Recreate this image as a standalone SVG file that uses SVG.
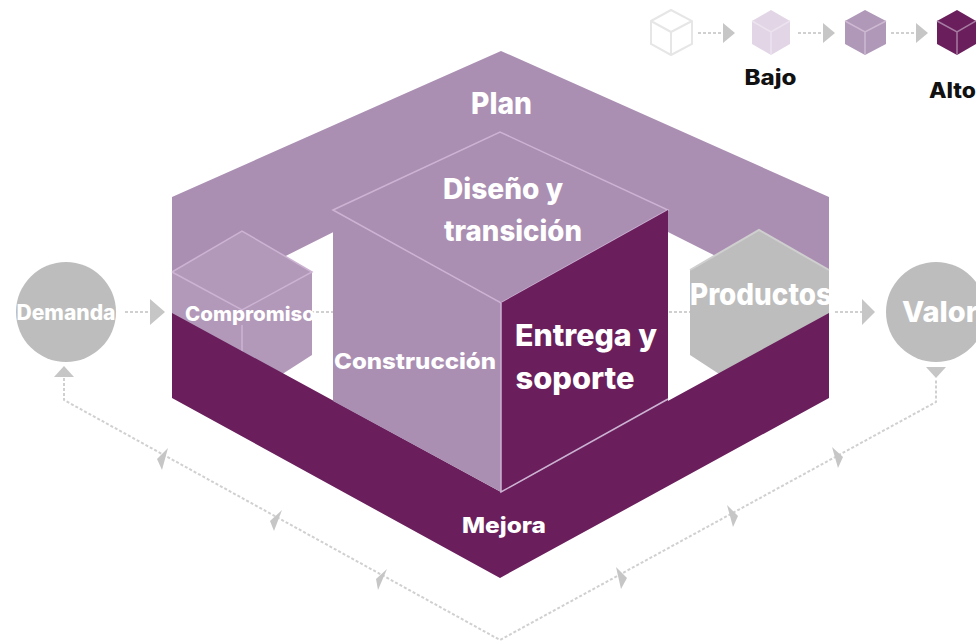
<svg xmlns="http://www.w3.org/2000/svg" width="976" height="642" viewBox="0 0 976 642">
<style>
text{font-family:Inter,"Liberation Sans",Arial,sans-serif;font-weight:800;fill:#fff}
.k{fill:#111}
.l{fill:#ab8fb3}
.m{fill:#b299b9}
.d{fill:#6a1f5c}
.n{fill:none;stroke:#cdb3d3;stroke-width:1.5}
.c{fill:none;stroke:#d0d0d0;stroke-width:2;stroke-dasharray:3 2}
.h{fill:#c6c6c6}
.g{fill:#bdbdbd}
</style>
<rect width="976" height="642" fill="#fff"/>
<g id="connectors">
<path class="c" d="M125 312H152M311 312H333M669 312H690M835 312H863"/>
<path class="c" d="M64 378V400L500 640L936 402V380"/>
<polygon class="h" points="150,299 165,312 150,325"/>
<polygon class="h" points="862,299 875,312 862,325"/>
<polygon class="h" points="64,366 54,377 74,377"/>
<polygon class="h" points="936,378 926,367 946,367"/>
<polygon class="h" points="157,459 168,448 162,470"/>
<polygon class="h" points="270,521 282,510 274,531"/>
<polygon class="h" points="376,579 387,569 378,590"/>
<polygon class="h" points="843,457 832,447 838,468"/>
<polygon class="h" points="738,516 727,505 733,527"/>
<polygon class="h" points="627,578 616,567 621,589"/>
</g>
<g id="plan">
<polygon class="l" points="172,197 501,51 829,197 829,313 501,148 172,313"/>
<text x="501.500" y="114" font-size="30" text-anchor="middle" textLength="61" lengthAdjust="spacingAndGlyphs">Plan</text>
</g>
<g id="compromiso">
<polygon class="m" points="172,272 242,231 312,272 312,355 242,400 172,360"/>
<path class="n" d="M172 272L242 231L312 272L242 310L172 272M242 325V380"/>
</g>
<g id="productos">
<polygon points="690,270 759,230 829,270 829,355 759,400 690,355" fill="#bdbdbd"/>
<path d="M690 270L759 230L829 270" fill="none" stroke="#cfcfcf" stroke-width="2"/>
</g>
<g id="mejora">
<polygon class="d" points="172,313 501,492 829,313 829,398 500,578 172,398"/>
<text x="504" y="533" font-size="22" text-anchor="middle" textLength="84" lengthAdjust="spacingAndGlyphs">Mejora</text>
</g>
<g id="construccion">
<polygon class="l" points="333,210 501,303 501,492 333,401"/>
<text x="415" y="369" font-size="22" text-anchor="middle" textLength="162" lengthAdjust="spacingAndGlyphs">Construcción</text>
</g>
<g id="diseno">
<polygon class="l" points="333,210 500,132 668,210 501,303"/>
<path class="n" d="M333 210L500 132L668 210L501 303Z"/>
<text x="503" y="199" font-size="28" text-anchor="middle" textLength="120" lengthAdjust="spacingAndGlyphs">Diseño y</text>
<text x="513" y="241" font-size="28" text-anchor="middle" textLength="138" lengthAdjust="spacingAndGlyphs">transición</text>
</g>
<g id="entrega">
<polygon class="d" points="501,303 668,210 668,402 501,492"/>
<path class="n" d="M501 303V492L668 399"/>
<text x="586" y="346" font-size="30" text-anchor="middle" textLength="142" lengthAdjust="spacingAndGlyphs">Entrega y</text>
<text x="575" y="389" font-size="30" text-anchor="middle" textLength="119" lengthAdjust="spacingAndGlyphs">soporte</text>
</g>
<g id="compromiso-label"><text x="250" y="321" font-size="20" text-anchor="middle" textLength="130" lengthAdjust="spacingAndGlyphs">Compromiso</text></g>
<g id="productos-label"><text x="761" y="305" font-size="30" text-anchor="middle" textLength="142" lengthAdjust="spacingAndGlyphs">Productos</text></g>
<g id="demanda">
<circle class="g" cx="66" cy="312" r="50"/>
<text x="66" y="320" font-size="21" text-anchor="middle" textLength="99" lengthAdjust="spacingAndGlyphs">Demanda</text>
</g>
<g id="valor">
<circle class="g" cx="936" cy="312" r="50"/>
<text x="940" y="322" font-size="29" text-anchor="middle" textLength="76" lengthAdjust="spacingAndGlyphs">Valor</text>
</g>
<g id="legend-cube-0">
<path d="M651 21L671 10L692 21V44L671 55L651 44ZM651 21L671 32L692 21M671 32V55" fill="#fff" stroke="#e6e6e6" stroke-width="2"/>
</g>
<g id="legend-cube-1">
<path d="M752 21L771 10L790 21V44L771 55L752 44Z" fill="#e2d6e6"/>
<path d="M752 21L771 32L790 21M771 32V55" fill="none" stroke="#ece3ef" stroke-width="1.500"/>
</g>
<g id="legend-cube-2">
<path d="M845 21L865 10L886 21V44L865 55L845 44Z" fill="#b098b8"/>
<path d="M845 21L865 32L886 21M865 32V55" fill="none" stroke="#cdb9d2" stroke-width="1.500"/>
</g>
<g id="legend-cube-3">
<path d="M937 21L957 10L976 21V44L957 55L937 44Z" fill="#6a1f5c"/>
<path d="M937 21L957 32L976 21M957 32V55" fill="none" stroke="#a77ca3" stroke-width="1.500"/>
</g>
<g id="legend-arrows">
<path class="c" d="M698 33H724M798 33H824M891 33H917"/>
<polygon class="h" points="723,23 735,33 723,43"/>
<polygon class="h" points="823,23 835,33 823,43"/>
<polygon class="h" points="916,23 928,33 916,43"/>
</g>
<g id="legend-labels">
<text class="k" x="770.500" y="85" font-size="21" text-anchor="middle" textLength="52" lengthAdjust="spacingAndGlyphs">Bajo</text>
<text class="k" x="952.500" y="98" font-size="21" text-anchor="middle" textLength="47" lengthAdjust="spacingAndGlyphs">Alto</text>
</g>
</svg>
